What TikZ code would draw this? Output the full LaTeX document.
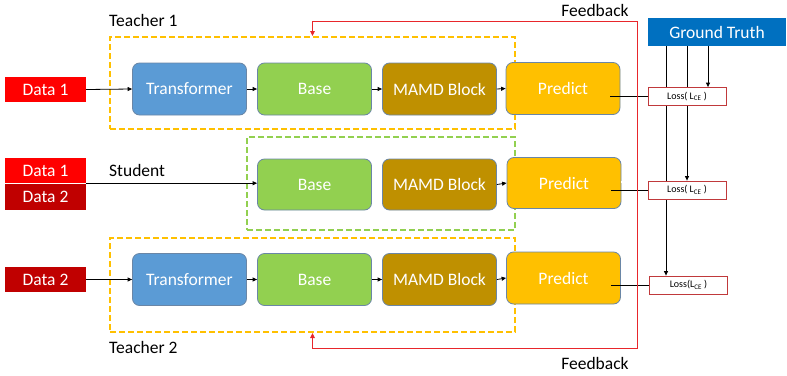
\documentclass[tikz,border=0pt]{standalone}
\usepackage{fontspec}
\setmainfont{Carlito}
\usetikzlibrary{arrows.meta,backgrounds}

\definecolor{datared}{HTML}{FF0000}
\definecolor{datadark}{HTML}{C00000}
\definecolor{trblue}{HTML}{5B9BD5}
\definecolor{basegreen}{HTML}{92D050}
\definecolor{mamdgold}{HTML}{BF9000}
\definecolor{predorange}{HTML}{FFC000}
\definecolor{gtblue}{HTML}{0070C0}
\definecolor{boxline}{HTML}{6A86A6}
\definecolor{lossred}{HTML}{C0393B}
\definecolor{fbred}{HTML}{E8262B}

\tikzset{
    block/.style={rounded corners=7pt, draw=boxline, line width=0.8pt, text=white,
        minimum width=114pt, minimum height=52pt, inner sep=0pt,
        font=\fontsize{17.5}{19}\selectfont},
    datum/.style={text=white, minimum width=81pt, minimum height=25pt, inner sep=0pt,
        font=\fontsize{17.5}{19}\selectfont},
    losstext/.style={draw=lossred, fill=white, line width=0.8pt, minimum width=78pt,
        minimum height=18pt, inner sep=0pt, font=\fontsize{10}{11}\selectfont},
    group/.style={line width=2pt, dash pattern=on 6pt off 3pt, minimum width=405pt,
        inner sep=0pt},
    flow/.style={-{Triangle[length=4.5pt,width=4pt]}, line width=0.8pt},
    fb/.style={-{Triangle[length=5pt,width=4.5pt]}, draw=fbred, line width=1pt},
    lbl/.style={anchor=west, inner sep=0pt, font=\fontsize{17.5}{19}\selectfont}
}

\begin{document}
\begin{tikzpicture}[x=1pt, y={(0pt,-1pt)}]
        \useasboundingbox (0,0) rectangle (787,375);

        % dashed groups
        \node[group, draw=predorange, minimum height=92pt] (t1grp) at (312.5, 83) {};
        \node[group, draw=predorange, minimum height=94pt] (t2grp) at (312.5, 285) {};
        \node[group, draw=basegreen, minimum width=268pt, minimum height=93pt] (sgrp) at (381, 183.5) {};

        \node[lbl] (t1lbl) at (109, 20) {Teacher 1};
        \node[lbl] (slbl) at (109, 170) {Student};
        \node[lbl] (t2lbl) at (109, 347) {Teacher 2};

        % teacher 1
        \node[datum, fill=datared] (d1) at (45.5, 89.5) {Data 1};
        \node[block, fill=trblue] (tr1) at (189.5, 89) {Transformer};
        \node[block, fill=basegreen] (b1) at (314.5, 89) {Base};
        \node[block, fill=mamdgold] (m1) at (439.5, 89) {MAMD Block};
        \node[block, fill=predorange] (p1) at (563, 88.5) {Predict};

        \draw[flow] (d1.east) -- (tr1.west);
        \draw[flow] (tr1.east) -- (b1.west);
        \draw[flow] (b1.east) -- (m1.west);
        \draw[flow] (m1.east) -- (p1.west);

        % student
        \node[datum, fill=datared] (d1s) at (45.5, 170.5) {Data 1};
        \node[datum, fill=datadark, minimum height=26pt] (d2s) at (45.5, 197) {Data 2};
        \node[block, fill=basegreen, minimum height=51pt] (bs) at (314.5, 184.5) {Base};
        \node[block, fill=mamdgold, minimum height=51pt] (ms) at (439.5, 184.5) {MAMD Block};
        \node[block, fill=predorange, minimum height=51pt] (ps) at (564, 183) {Predict};

        \draw[flow] (d1s.south east) -- (d1s.south east -| bs.west);
        \draw[flow] (ms.east) -- (ps.west);

        % teacher 2
        \node[datum, fill=datadark] (d2) at (45.5, 279.5) {Data 2};
        \node[block, fill=trblue] (tr2) at (189.5, 279.5) {Transformer};
        \node[block, fill=basegreen] (b2) at (314.5, 279.5) {Base};
        \node[block, fill=mamdgold] (m2) at (439.5, 279.5) {MAMD Block};
        \node[block, fill=predorange] (p2) at (563.5, 278) {Predict};

        \draw[flow] (d2.east) -- (tr2.west);
        \draw[flow] (tr2.east) -- (b2.west);
        \draw[flow] (b2.east) -- (m2.west);
        \draw[flow] (m2.east) -- (p2.west);

        % ground truth and losses
        \node[fill=gtblue, text=white, minimum width=138pt, minimum height=28pt, inner sep=0pt,
            font=\fontsize{17.5}{19}\selectfont] (gt) at (717, 32) {Ground Truth};
        \node[losstext] (l1) at (687, 96.5) {Loss( L\textsubscript{CE} )};
        \node[losstext] (l2) at (687, 190) {Loss( L\textsubscript{CE} )};
        \node[losstext] (l3) at (688.5, 285) {Loss(L\textsubscript{CE} )};

        \begin{scope}[on background layer]
            \draw[flow] ([xshift=21pt]l1.north |- gt.south) -- ([xshift=21pt]l1.north);
            \draw[flow] (l2.north |- gt.south) -- (l2.north);
            \draw[flow] ([xshift=-22.5pt]l3.north |- gt.south) -- ([xshift=-22.5pt]l3.north);
        \end{scope}

        \draw[line width=0.8pt] ([xshift=-10pt]p1.east |- l1.west) -- (l1.west);
        \draw[line width=0.8pt] ([xshift=-10pt]ps.east |- l2.west) -- (l2.west);
        \draw[line width=0.8pt] ([xshift=-10pt]p2.east |- l3.west) -- (l3.west);

        % feedback
        \coordinate (fbx) at (637, 182);
        \draw[draw=fbred, line width=0.6pt, double=white, double distance=1.2pt] (ps.east |- fbx) -- (fbx);
        \draw[fb] (fbx) |- ([yshift=15pt]t1grp.north) -- (t1grp.north);
        \draw[fb] (fbx) |- ([yshift=-15pt]t2grp.south) -- (t2grp.south);
        \node[font=\fontsize{17.5}{19}\selectfont, inner sep=0pt] (fbtop) at (595, 10) {Feedback};
        \node[font=\fontsize{17.5}{19}\selectfont, inner sep=0pt] (fbbot) at (595, 363) {Feedback};

\end{tikzpicture}
\end{document}
